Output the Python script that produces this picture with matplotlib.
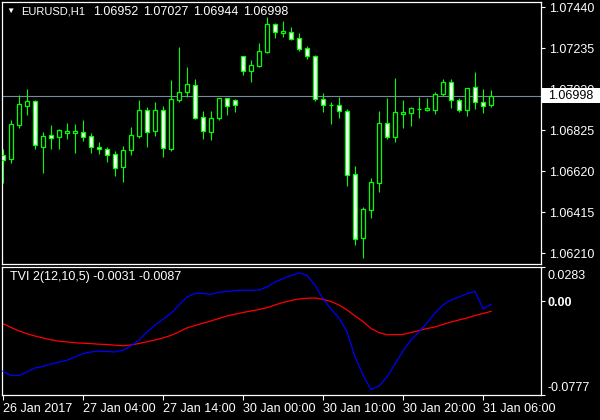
import matplotlib
matplotlib.use("Agg")
import matplotlib.pyplot as plt
from matplotlib import transforms
from matplotlib.patches import Rectangle
import numpy as np

plt.rcParams['font.family'] = ['Liberation Sans', 'DejaVu Sans']

symbol = "EURUSD,H1"
opens = [1.06702, 1.06680, 1.06853, 1.06948, 1.06972, 1.06743, 1.06800, 1.06790, 1.06813, 1.06813,
         1.06815, 1.06795, 1.06740, 1.06730, 1.06705, 1.06640, 1.06728, 1.06798, 1.06925, 1.06820,
         1.06925, 1.06733, 1.06975, 1.07015, 1.07050, 1.06890, 1.06815, 1.06888, 1.06985, 1.06975,
         1.07195, 1.07123, 1.07148, 1.07218, 1.07355, 1.07313, 1.07315, 1.07285, 1.07235, 1.07195,
         1.06980, 1.06950, 1.06950, 1.06920, 1.06605, 1.06288, 1.06428, 1.06563, 1.06860, 1.06790,
         1.06908, 1.06913, 1.06933, 1.06927, 1.06928, 1.07008, 1.07065, 1.06975, 1.06928, 1.07040,
         1.06965, 1.06952]
highs = [1.06732, 1.06875, 1.07002, 1.07032, 1.06977, 1.06817, 1.06852, 1.06829, 1.06862, 1.06857,
         1.06877, 1.06810, 1.06767, 1.06740, 1.06720, 1.06747, 1.06842, 1.06977, 1.06942, 1.06967,
         1.06945, 1.07077, 1.07242, 1.07142, 1.07082, 1.06922, 1.06922, 1.06987, 1.06987, 1.06983,
         1.07197, 1.07177, 1.07262, 1.07393, 1.07360, 1.07372, 1.07342, 1.07312, 1.07247, 1.07202,
         1.07012, 1.06967, 1.06992, 1.06930, 1.06647, 1.06442, 1.06588, 1.06922, 1.06987, 1.07087,
         1.06977, 1.06942, 1.06992, 1.06987, 1.07017, 1.07082, 1.07082, 1.06987, 1.07035, 1.07117,
         1.07032, 1.07027]
lows = [1.06563, 1.06660, 1.06838, 1.06902, 1.06730, 1.06613, 1.06733, 1.06733, 1.06783, 1.06713,
        1.06773, 1.06713, 1.06707, 1.06668, 1.06598, 1.06568, 1.06702, 1.06788, 1.06743, 1.06797,
        1.06693, 1.06723, 1.06967, 1.06990, 1.06882, 1.06783, 1.06777, 1.06878, 1.06903, 1.06918,
        1.07103, 1.07068, 1.07142, 1.07213, 1.07288, 1.07293, 1.07278, 1.07223, 1.07183, 1.06970,
        1.06918, 1.06858, 1.06888, 1.06548, 1.06253, 1.06188, 1.06388, 1.06518, 1.06783, 1.06768,
        1.06838, 1.06848, 1.06888, 1.06923, 1.06908, 1.06998, 1.06938, 1.06917, 1.06898, 1.06933,
        1.06912, 1.06944]
closes = [1.06679, 1.06855, 1.06955, 1.06970, 1.06750, 1.06795, 1.06788, 1.06825, 1.06822, 1.06822,
          1.06790, 1.06740, 1.06730, 1.06703, 1.06635, 1.06725, 1.06800, 1.06925, 1.06815, 1.06925,
          1.06737, 1.06980, 1.07017, 1.07055, 1.06885, 1.06820, 1.06885, 1.06985, 1.06948, 1.06950,
          1.07123, 1.07152, 1.07220, 1.07355, 1.07318, 1.07320, 1.07283, 1.07230, 1.07195, 1.06980,
          1.06953, 1.06950, 1.06920, 1.06600, 1.06283, 1.06432, 1.06565, 1.06860, 1.06790, 1.06915,
          1.06915, 1.06935, 1.06933, 1.06935, 1.07005, 1.07065, 1.06975, 1.06928, 1.07035, 1.06968,
          1.06948, 1.06998]

tvi_main = [-0.0583, -0.0618, -0.0618, -0.0589, -0.0556, -0.0543, -0.0522, -0.0506, -0.0492, -0.0464,
            -0.0437, -0.0423, -0.0417, -0.0419, -0.0423, -0.0409, -0.0373, -0.0324, -0.0258, -0.0200,
            -0.0152, -0.0104, -0.0034, 0.0032, 0.0063, 0.0061, 0.0055, 0.0071, 0.0078, 0.0086,
            0.0088, 0.0088, 0.0090, 0.0115, 0.0156, 0.0185, 0.0210, 0.0231, 0.0212, 0.0129,
            0.0018, -0.0067, -0.0142, -0.0258, -0.0464, -0.0614, -0.0735, -0.0705, -0.0630, -0.0522,
            -0.0415, -0.0324, -0.0258, -0.0183, -0.0100, -0.0034, 0.0007, 0.0032, 0.0060, 0.0079,
            -0.0065, -0.0031]
tvi_signal = [-0.0189, -0.0220, -0.0249, -0.0272, -0.0291, -0.0307, -0.0322, -0.0334, -0.0340, -0.0347,
              -0.0351, -0.0354, -0.0359, -0.0361, -0.0367, -0.0372, -0.0365, -0.0353, -0.0338, -0.0324,
              -0.0307, -0.0286, -0.0256, -0.0224, -0.0204, -0.0185, -0.0166, -0.0146, -0.0125, -0.0111,
              -0.0096, -0.0084, -0.0071, -0.0056, -0.0034, -0.0013, 0.0003, 0.0016, 0.0022, 0.0024,
              0.0012, -0.0005, -0.0034, -0.0075, -0.0125, -0.0171, -0.0229, -0.0263, -0.0280, -0.0280,
              -0.0278, -0.0262, -0.0245, -0.0229, -0.0216, -0.0195, -0.0175, -0.0158, -0.0142, -0.0121,
              -0.0104, -0.0087]

price_ticks = [1.07440, 1.07235, 1.07030, 1.06825, 1.06620, 1.06415, 1.06210]
tvi_ticks = [0.0283, 0.00, -0.0777]
tvi_tick_labels = ["0.0283", "0.00", "-0.0777"]
time_tick_pos = [0, 10, 20, 30, 40, 50, 60]
time_tick_labels = ["26 Jan 2017", "27 Jan 04:00", "27 Jan 14:00", "30 Jan 00:00",
                    "30 Jan 10:00", "30 Jan 20:00", "31 Jan 06:00"]
tvi_title = "TVI 2(12,10,5) -0.0031 -0.0087"

GREEN = "#00ff00"
FS = 9
W, H = 600, 420

fig = plt.figure(figsize=(6, 4.2), dpi=100, facecolor="black")
ax = fig.add_axes([2 / W, 1 - 263.7 / H, 538.7 / W, 261.7 / H], facecolor="black")
ax2 = fig.add_axes([2 / W, 1 - 394.7 / H, 538.7 / W, 128 / H], facecolor="black")

x = np.arange(len(opens))
o = np.array(opens); c = np.array(closes); hi = np.array(highs); lo = np.array(lows)

# current price line
ax.axhline(closes[-1], color="#778899", lw=0.8, zorder=1)

# wicks
ax.vlines(x, lo, hi, color=GREEN, lw=0.8, zorder=2)
# bodies
bottoms = np.minimum(o, c)
heights = np.abs(c - o)
fills = ["white" if cc < oo else "black" for oo, cc in zip(o, c)]
ax.bar(x, heights, bottom=bottoms, width=0.52, color=fills, edgecolor=GREEN,
       linewidth=0.9, zorder=3)

xlim = (-0.125, 67.21)
ax.set_xlim(*xlim)
ax.set_ylim(1.06158, 1.074665)
ax.yaxis.tick_right()
ax.set_yticks(price_ticks)
ax.set_yticklabels([f"{p:.5f}" for p in price_ticks])
ax.tick_params(axis="y", colors="white", length=3, width=0.8, pad=3, labelsize=FS)
ax.set_xticks([])
for s in ax.spines.values():
    s.set_color("white"); s.set_linewidth(0.9)

# current price box (partly covers the 1.07030 label, as in the terminal)
bt = transforms.blended_transform_factory(fig.transFigure, ax.transData)
box = Rectangle((541 / W, closes[-1] - 0.00036), 1 - 541 / W, 0.00072, transform=bt,
                facecolor="white", edgecolor="none", zorder=10, clip_on=False)
fig.add_artist(box)
fig.text(548 / W, closes[-1], f"{closes[-1]:.5f}", transform=bt, color="black",
         fontsize=FS, va="center", ha="left", zorder=11)

# header
fig.text(10 / W, 1 - 11.5 / H, "\u25BC", color="white", fontsize=6, ha="center", va="center")
fig.text(21 / W, 1 - 12 / H, symbol, color="white", fontsize=8, va="center", ha="left")
for xp, val in zip([93, 143, 193.3, 243.3], [opens[-1], highs[-1], lows[-1], closes[-1]]):
    fig.text(xp / W, 1 - 12 / H, f"{val:.5f}", color="white", fontsize=FS, va="center", ha="left")

# indicator panel
ax2.plot(x, tvi_signal, color="#ff0000", lw=0.9, zorder=2)
ax2.plot(x, tvi_main, color="#0000ff", lw=0.9, zorder=3)
ax2.set_xlim(*xlim)
ax2.set_ylim(-0.0777, 0.0283)
ax2.yaxis.tick_right()
ax2.set_yticks(tvi_ticks)
ax2.set_yticklabels([])
ax2.tick_params(axis="y", colors="white", length=3, width=0.8)
ax2.set_xticks(time_tick_pos)
ax2.set_xticklabels(time_tick_labels, ha="left")
ax2.tick_params(axis="x", colors="white", length=3.5, width=0.8, pad=2.5, labelsize=FS)
for s in ax2.spines.values():
    s.set_color("white"); s.set_linewidth(0.9)

ytr = ax2.get_yaxis_transform()
lab_x = 1 + (548 - 540.7) / 538.7
ax2.text(lab_x, tvi_ticks[0], tvi_tick_labels[0], color="white", fontsize=FS, ha="left",
         va="top", clip_on=False,
         transform=transforms.offset_copy(ytr, fig=fig, x=0, y=-3, units="dots"))
ax2.text(lab_x, tvi_ticks[1], tvi_tick_labels[1], color="white", fontsize=FS, ha="left",
         va="center", fontweight="bold", clip_on=False,
         transform=transforms.offset_copy(ytr, fig=fig, x=0, y=-2.5, units="dots"))
ax2.text(lab_x, tvi_ticks[2], tvi_tick_labels[2], color="white", fontsize=FS, ha="left",
         va="bottom", clip_on=False,
         transform=transforms.offset_copy(ytr, fig=fig, x=0, y=1, units="dots"))

ax2.text(8 / 538.7, 1 - (277 - 266.7) / 128, tvi_title, transform=ax2.transAxes,
         color="white", fontsize=FS, va="center", ha="left")

fig.savefig("out.png", dpi=100, facecolor="black")
